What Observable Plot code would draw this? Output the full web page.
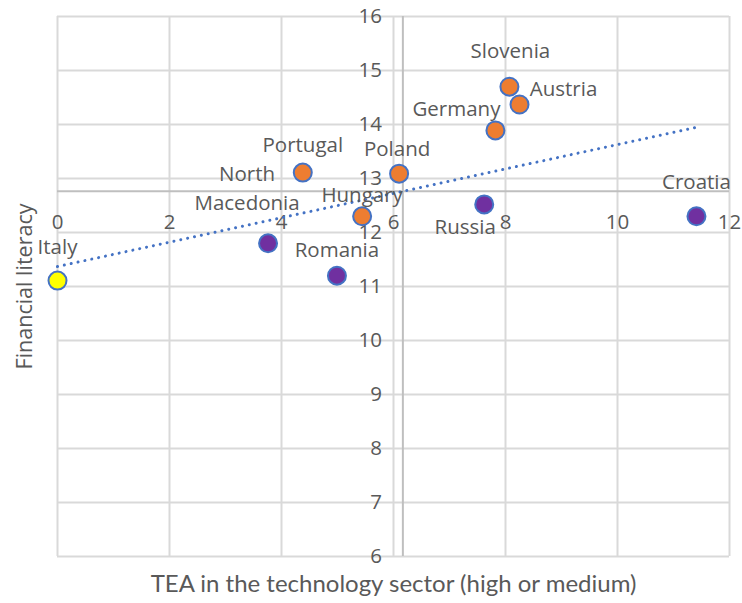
<!DOCTYPE html>
<html>
<head>
<meta charset="utf-8">
<script src="https://cdn.jsdelivr.net/npm/d3@7"></script>
<script src="https://cdn.jsdelivr.net/npm/@observablehq/plot@0.6"></script>
<style>
  html, body { margin: 0; padding: 0; background: #fff; }
  #chart svg { display: block; }
</style>
</head>
<body>
<div id="chart"></div>
<script>
// ---- data ----
const countries = ["Italy", "North Macedonia", "Romania", "Portugal", "Hungary", "Poland", "Russia", "Germany", "Slovenia", "Austria", "Croatia"];
const tea       = [0, 3.76, 4.99, 4.38, 5.44, 6.10, 7.62, 7.82, 8.07, 8.25, 11.41];
const literacy  = [11.11, 11.80, 11.20, 13.11, 12.30, 13.09, 12.52, 13.89, 14.70, 14.37, 12.30];
const groups    = ["C", "B", "B", "A", "A", "A", "B", "A", "A", "A", "B"];
const xTicks = [0, 2, 4, 6, 8, 10, 12];
const yTicks = [6, 7, 8, 9, 10, 11, 12, 13, 14, 15, 16];
const xTitle = "TEA in the technology sector (high or medium)";
const yTitle = "Financial literacy";

// ---- label placement (layout, not data) ----
const labelOffsets = {
  "Italy": [0, -36], "North Macedonia": [-21, -57], "Romania": [0, -28],
  "Portugal": [0, -30], "Hungary": [0, -24], "Poland": [-2, -27],
  "Russia": [-19, 20], "Germany": [-39, -24], "Slovenia": [1, -38],
  "Austria": [44, -18], "Croatia": [0, -37]
};

const rows = countries.map((c, i) => ({country: c, x: tea[i], y: literacy[i], group: groups[i]}));
const xCross = d3.mean(tea);
const yCross = d3.mean(literacy);

const font = "'Open Sans', 'Segoe UI', sans-serif";
const grey = "#595959";

const labelMarks = rows.map(d => Plot.text([d], {
  x: "x", y: "y",
  text: r => r.country.replace("North ", "North\n"),
  dx: labelOffsets[d.country][0], dy: labelOffsets[d.country][1],
  fill: grey, fontSize: 20.5, lineHeight: 1.42
}));

const chart = Plot.plot({
  width: 742, height: 603,
  marginLeft: 57, marginRight: 13, marginTop: 16, marginBottom: 47,
  style: {fontFamily: font, background: "#fff"},
  x: {domain: [0, 12], axis: null},
  y: {domain: [6, 16], axis: null},
  color: {domain: ["A", "B", "C"], range: ["#ED7D31", "#7030A0", "#FFFF00"]},
  marks: [
    Plot.gridX(xTicks, {stroke: "#d9d9d9", strokeOpacity: 1, strokeWidth: 2}),
    Plot.gridY(yTicks, {stroke: "#d9d9d9", strokeOpacity: 1, strokeWidth: 2}),
    Plot.ruleX([xCross], {stroke: "#bfbfbf", strokeWidth: 2}),
    Plot.ruleY([yCross], {stroke: "#bfbfbf", strokeWidth: 2, x1: 0, x2: 12}),
    Plot.text(xTicks, {x: d => d, y: () => yCross, dy: 31, text: d => String(d), fill: grey, fontSize: 20.5}),
    Plot.text(yTicks, {x: () => xCross, y: d => d, dx: -21, textAnchor: "end", text: d => String(d), fill: grey, fontSize: 20.5}),
    Plot.linearRegressionY(rows, {x: "x", y: "y", ci: 0, stroke: "#4472C4", strokeWidth: 3, strokeDasharray: "0.01,7", strokeLinecap: "round"}),
    Plot.dot(rows, {x: "x", y: "y", r: 9, fill: "group", stroke: "#4472C4", strokeWidth: 2}),
    ...labelMarks,
    Plot.text([yTitle], {frameAnchor: "left", textAnchor: "middle", lineAnchor: "middle", dx: -32, rotate: -90, fill: grey, fontSize: 21.5}),
    Plot.text([xTitle], {frameAnchor: "bottom", textAnchor: "middle", lineAnchor: "middle", dy: 28, fill: grey, fontSize: 24, fontFamily: "Lato, sans-serif"})
  ]
});
document.getElementById("chart").appendChild(chart);
</script>
</body>
</html>
